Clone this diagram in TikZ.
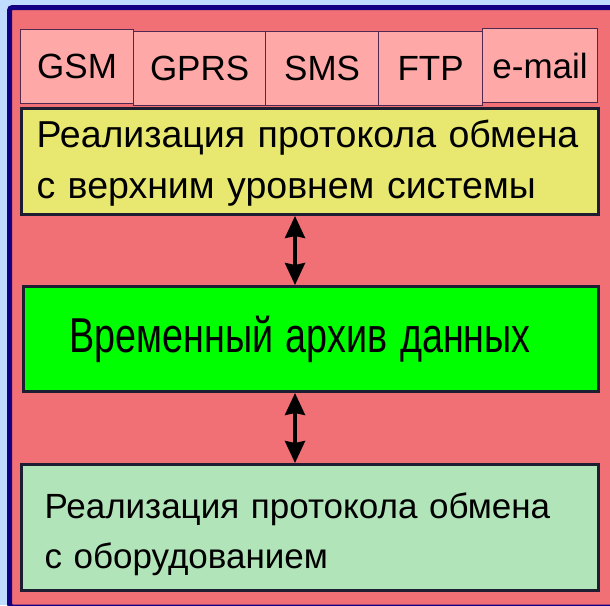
\documentclass[tikz,border=0pt]{standalone}
\usepackage{fontspec}
\usepackage{graphicx}
\setmainfont{Liberation Sans}
\usetikzlibrary{arrows.meta}
\definecolor{skyback}{RGB}{192,220,255}
\definecolor{framenavy}{RGB}{20,0,130}
\definecolor{panelred}{RGB}{240,112,117}
\definecolor{tabfill}{RGB}{255,168,168}
\definecolor{tabline}{RGB}{80,40,80}
\definecolor{boxline}{RGB}{30,30,50}
\definecolor{upperfill}{RGB}{232,232,112}
\definecolor{archivefill}{RGB}{0,255,0}
\definecolor{lowerfill}{RGB}{178,228,186}
\begin{document}
\begin{tikzpicture}[
  x=1pt, y=-1pt,
  tab/.style={
    draw=tabline,
    line width=1.2pt,
    fill=tabfill,
    anchor=north west,
    inner sep=0pt,
    minimum height=74pt,
    font=\fontsize{35}{40}\selectfont
  },
  box/.style={
    draw=boxline,
    line width=3pt,
    anchor=north west,
    align=left,
    inner ysep=0pt
  },
  link/.style={
    line width=3.5pt,
    {Stealth[length=22pt,width=20pt,inset=2pt]}-{Stealth[length=22pt,width=20pt,inset=2pt]}
  }
]
\useasboundingbox (0,0) rectangle (610,605);
\fill[skyback] (0,0) rectangle (610,605);
\draw[framenavy, line width=5pt, fill=panelred, rounded corners=3pt] (9.5,7.5) rectangle (614,607);

% protocol tabs
\node[tab, minimum width=113pt] at (20,29) (gsm) {GSM};
\node[tab, minimum width=132pt] at (133,31) (gprs) {GPRS};
\node[tab, minimum width=113pt] at (265,31) (sms) {SMS};
\node[tab, minimum width=104pt] at (378,31) (ftp) {FTP};
\node[tab, minimum width=115pt] at (482,28) (email) {e-mail};

% layers
\node[box, fill=upperfill, minimum width=577pt, minimum height=106pt,
  text width=547pt, inner xsep=15pt, font=\fontsize{37.5}{51}\selectfont]
  at (20,107) (upper) {\rule{0pt}{30pt}Реализация протокола обмена\\с верхним уровнем системы};
\node[box, fill=archivefill, minimum width=575pt, minimum height=105pt,
  text width=483pt, inner xsep=46pt, font=\fontsize{49}{56}\selectfont]
  at (22,285) (archive) {\scalebox{0.77}[1]{Временный архив данных}};
\node[box, fill=lowerfill, minimum width=577pt, minimum height=126pt,
  text width=531pt, inner xsep=23pt, font=\fontsize{35}{50}\selectfont]
  at (20,463) (lower) {\rule{0pt}{39pt}Реализация протокола обмена\\с оборудованием};

\coordinate (axis) at (295,0);
\draw[link] (upper.south -| axis) -- (archive.north -| axis);
\draw[link] (archive.south -| axis) -- (lower.north -| axis);
\end{tikzpicture}
\end{document}
